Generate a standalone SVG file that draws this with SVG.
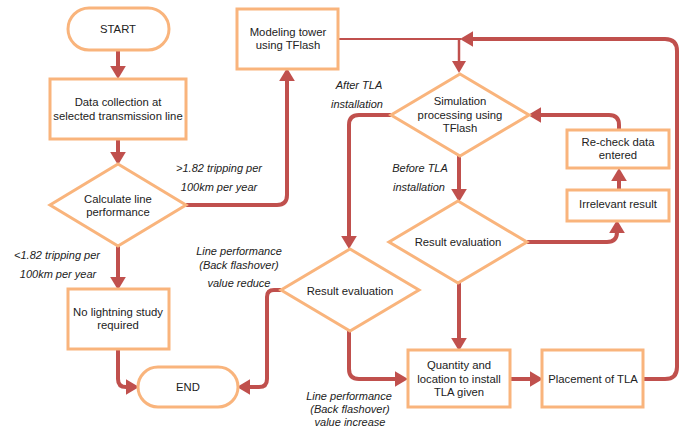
<svg xmlns="http://www.w3.org/2000/svg" width="688" height="427" viewBox="0 0 688 427">
<style>
.box{fill:#fff;stroke:#F9B47C;stroke-width:3}
.t{font-family:"Liberation Sans",Arial,sans-serif;font-size:11.3px;fill:#222;text-anchor:middle}
.l{font-family:"Liberation Sans",Arial,sans-serif;font-size:11px;font-style:italic;fill:#222;text-anchor:middle}
.c{fill:none;stroke:#C0504D;stroke-width:4}
.c2{fill:none;stroke:#C0504D;stroke-width:2}
</style>
<defs>
<marker id="ah" markerUnits="userSpaceOnUse" markerWidth="14" markerHeight="16" refX="4" refY="7.5" orient="auto" viewBox="0 0 13 15">
<path d="M0,0 L12.5,7.5 L0,15 z" fill="#C0504D"/>
</marker>
<marker id="ahs" markerUnits="userSpaceOnUse" markerWidth="14" markerHeight="14" refX="3" refY="7" orient="auto" viewBox="0 0 13 14">
<path d="M0,0 L12,7 L0,14 z" fill="#C0504D"/>
</marker>
</defs>
<g id="connectors">
<path class="c" d="M118,50 V70" marker-end="url(#ah)"/>
<path class="c" d="M118,139 V156" marker-end="url(#ah)"/>
<path class="c" d="M186,205 H277 Q287,205 287,195 V77" marker-end="url(#ah)"/>
<path class="c" d="M118,246 V281" marker-end="url(#ah)"/>
<path class="c" d="M118,349 V379 Q118,387 126,387 H130" marker-end="url(#ah)"/>
<path class="c2" d="M338,39 H461"/>
<path class="c2" d="M459,39 V64" marker-end="url(#ahs)" style="stroke-width:2.5"/>
<path class="c" d="M391,115 H359 Q349,115 349,125 V240" marker-end="url(#ah)"/>
<path class="c" d="M281,290 H274 Q267,290 267,297 V379 Q267,387 259,387 H246" marker-end="url(#ah)"/>
<path class="c" d="M349,331 V369 Q349,379 359,379 H399" marker-end="url(#ah)"/>
<path class="c" d="M459,156 V193" marker-end="url(#ah)"/>
<path class="c" d="M459,283 V342" marker-end="url(#ah)"/>
<path class="c" d="M527,242 H607 Q617,242 617,232 V229" marker-end="url(#ah)"/>
<path class="c" d="M619,190 V177" marker-end="url(#ah)"/>
<path class="c" d="M619,130 V125 Q619,115 609,115 H537" marker-end="url(#ah)"/>
<path class="c" d="M510,379 H534" marker-end="url(#ah)"/>
<path class="c" d="M643,379 H665 Q677,379 677,367 V51 Q677,39 665,39 H469" marker-end="url(#ah)"/>
</g>
<g id="labels">
<text class="l" x="219" y="172">&gt;1.82 tripping per</text>
<text class="l" x="219" y="191">100km per year</text>
<text class="l" x="57" y="259">&lt;1.82 tripping per</text>
<text class="l" x="58" y="278">100km per year</text>
<text class="l" x="359" y="89">After TLA</text>
<text class="l" x="357" y="108">installation</text>
<text class="l" x="420" y="172">Before TLA</text>
<text class="l" x="419" y="191">installation</text>
<text class="l" x="239" y="255">Line performance</text>
<text class="l" x="239" y="269">(Back flashover)</text>
<text class="l" x="239" y="287">value reduce</text>
<text class="l" x="349" y="400">Line performance</text>
<text class="l" x="350" y="413">(Back flashover)</text>
<text class="l" x="350" y="426">value increase</text>
</g>
<g id="start">
<rect class="box" x="68" y="8" width="101" height="42" rx="21"/>
<text class="t" x="118" y="33">START</text>
</g>
<g id="data">
<rect class="box" x="50" y="79" width="136" height="60"/>
<text class="t" x="118" y="106">Data collection at</text>
<text class="t" x="118" y="120">selected transmission line</text>
</g>
<g id="calc">
<polygon class="box" points="118,164 186,205 118,246 50,205"/>
<text class="t" x="118" y="203">Calculate line</text>
<text class="t" x="118" y="216">performance</text>
</g>
<g id="model">
<rect class="box" x="237" y="9" width="101" height="60"/>
<text class="t" x="288" y="36">Modeling tower</text>
<text class="t" x="288" y="49">using TFlash</text>
</g>
<g id="sim">
<polygon class="box" points="460,74 529,115 460,156 391,115"/>
<text class="t" x="460" y="105">Simulation</text>
<text class="t" x="460" y="119">processing using</text>
<text class="t" x="460" y="132">TFlash</text>
</g>
<g id="recheck">
<rect class="box" x="567" y="130" width="102" height="38"/>
<text class="t" x="618" y="146">Re-check data</text>
<text class="t" x="618" y="159">entered</text>
</g>
<g id="irrelevant">
<rect class="box" x="567" y="190" width="102" height="31"/>
<text class="t" x="618" y="208">Irrelevant result</text>
</g>
<g id="resultR">
<polygon class="box" points="458,201 527,242 458,283 389,242"/>
<text class="t" x="458" y="246">Result evaluation</text>
</g>
<g id="resultL">
<polygon class="box" points="350,249 419,290 350,331 281,290"/>
<text class="t" x="350" y="295">Result evaluation</text>
</g>
<g id="nolightning">
<rect class="box" x="68" y="289" width="101" height="60"/>
<text class="t" x="118" y="316">No lightning study</text>
<text class="t" x="118" y="329">required</text>
</g>
<g id="end">
<rect class="box" x="138" y="367" width="100" height="40" rx="20"/>
<text class="t" x="188" y="391">END</text>
</g>
<g id="quantity">
<rect class="box" x="408" y="350" width="102" height="57"/>
<text class="t" x="459" y="369">Quantity and</text>
<text class="t" x="459" y="383">location to install</text>
<text class="t" x="459" y="396">TLA given</text>
</g>
<g id="placement">
<rect class="box" x="542" y="350" width="101" height="57"/>
<text class="t" x="593" y="383">Placement of TLA</text>
</g>
</svg>
